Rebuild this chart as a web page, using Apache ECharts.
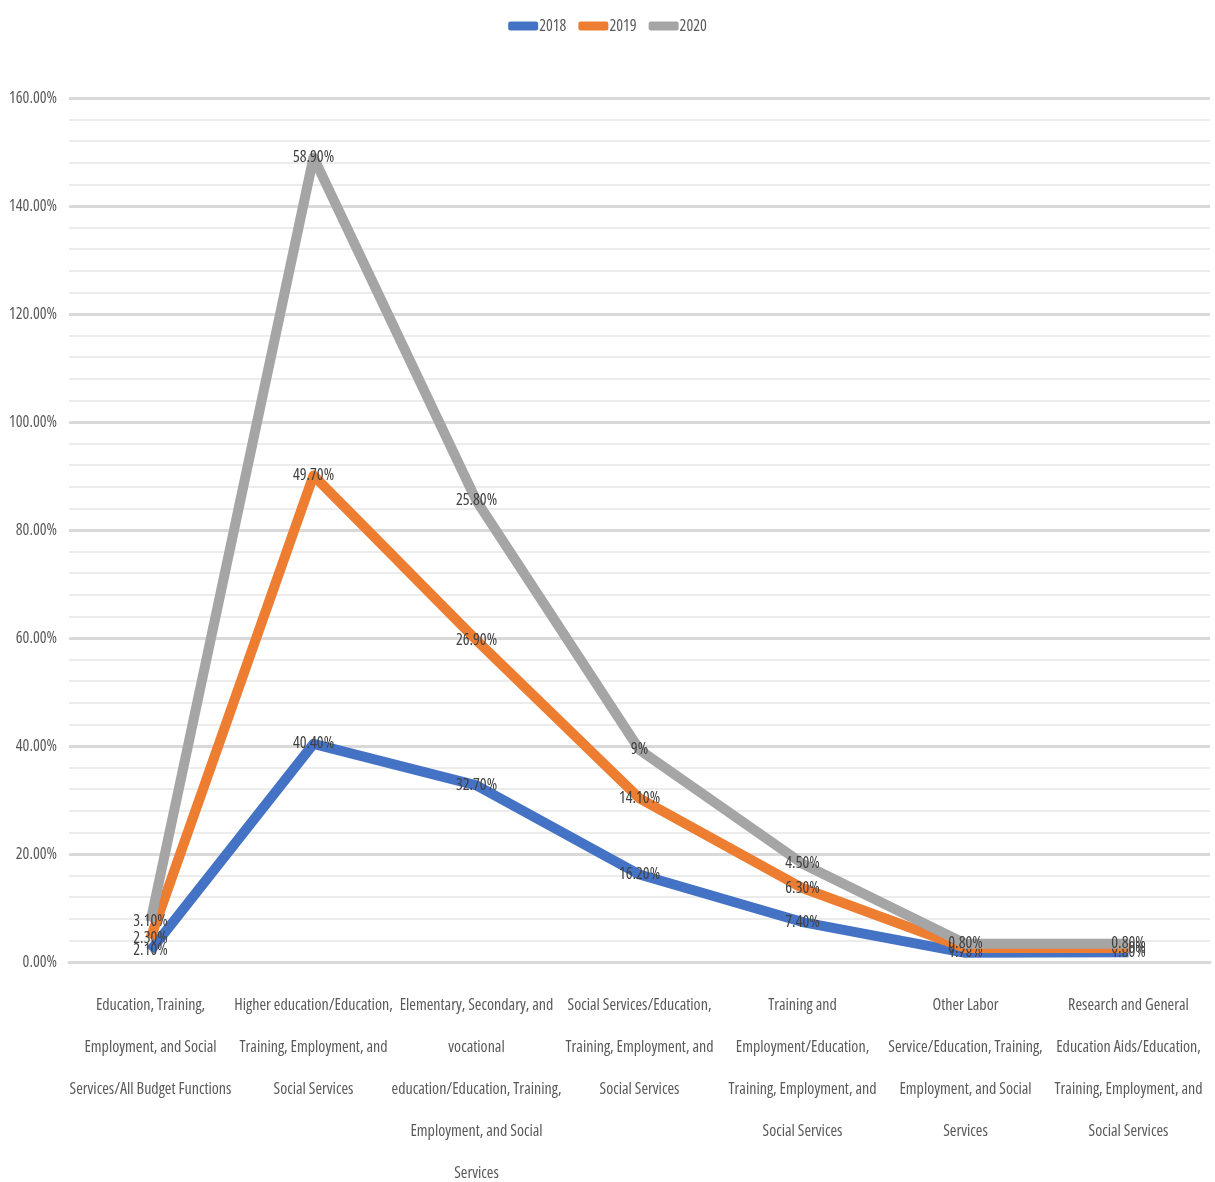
<!DOCTYPE html>
<html>
<head>
<meta charset="utf-8">
<script src="https://cdn.jsdelivr.net/npm/echarts@6/dist/echarts.min.js"></script>
<style>
  html, body { margin: 0; padding: 0; background: #ffffff; }
  #chart { width: 1215px; height: 1182px; }
</style>
</head>
<body>
<div id="chart"></div>
<script>
// Budget function shares by year (percent), drawn as stacked lines
const categories = [
  'Education, Training,\nEmployment, and Social\nServices/All Budget Functions',
  'Higher education/Education,\nTraining, Employment, and\nSocial Services',
  'Elementary, Secondary, and\nvocational\neducation/Education, Training,\nEmployment, and Social\nServices',
  'Social Services/Education,\nTraining, Employment, and\nSocial Services',
  'Training and\nEmployment/Education,\nTraining, Employment, and\nSocial Services',
  'Other Labor\nService/Education, Training,\nEmployment, and Social\nServices',
  'Research and General\nEducation Aids/Education,\nTraining, Employment, and\nSocial Services'
];
const seriesNames = ['2018', '2019', '2020'];
const values2018 = [2.1, 40.4, 32.7, 16.2, 7.4, 1.7, 1.8];
const values2019 = [2.3, 49.7, 26.9, 14.1, 6.3, 0.9, 0.8];
const values2020 = [3.1, 58.9, 25.8, 9, 4.5, 0.8, 0.8];
const yTicks = { min: 0, max: 160, interval: 20 };
const colors = ['#4472C4', '#ED7D31', '#A5A5A5'];

// Narrow text: Open Sans at its condensed width
const FONT = "'Open Sans', 'Roboto Condensed', sans-serif";
const STRETCH = 'condensed';

function pct(v) {
  return Number.isInteger(v) ? v + '%' : v.toFixed(2) + '%';
}

const dataSets = [values2018, values2019, values2020];
const series = dataSets.map((vals, i) => ({
  name: seriesNames[i],
  type: 'line',
  stack: 'total',
  data: vals,
  symbol: 'circle',
  symbolSize: 1,
  lineStyle: { width: 10, color: colors[i], join: 'round' },
  itemStyle: { color: colors[i] },
  label: {
    show: true,
    position: 'inside',
    formatter: p => pct(p.value),
    fontFamily: FONT,
    fontStyle: STRETCH,
    fontSize: 16,
    color: '#404040'
  },
  emphasis: { disabled: true },
  z: 2 + i
}));

const chart = echarts.init(document.getElementById('chart'), null, { renderer: 'canvas' });
chart.setOption({
  animation: false,
  backgroundColor: '#ffffff',
  color: colors,
  legend: {
    top: 13,
    left: 'center',
    data: seriesNames,
    icon: 'roundRect',
    itemWidth: 30,
    itemHeight: 9,
    itemGap: 12,
    textStyle: { fontFamily: FONT, fontStyle: STRETCH, fontSize: 16, color: '#595959', padding: [0, 0, 0, -4] }
  },
  grid: { left: 69, right: 5, top: 98, bottom: 220, containLabel: false, outerBoundsMode: 'none' },
  xAxis: {
    type: 'category',
    data: categories,
    boundaryGap: true,
    axisLine: { lineStyle: { color: '#d9d9d9', width: 3 } },
    axisTick: { show: false },
    axisLabel: {
      interval: 0,
      margin: 22,
      fontFamily: FONT,
      fontStyle: STRETCH,
      fontSize: 16,
      lineHeight: 42,
      color: '#595959',
      align: 'center'
    }
  },
  yAxis: {
    type: 'value',
    min: yTicks.min,
    max: yTicks.max,
    interval: yTicks.interval,
    axisLine: { show: false },
    axisTick: { show: false },
    axisLabel: {
      margin: 12,
      fontFamily: FONT,
      fontStyle: STRETCH,
      fontSize: 16,
      color: '#595959',
      formatter: v => v.toFixed(2) + '%'
    },
    splitLine: { lineStyle: { color: '#d9d9d9', width: 3 } },
    minorTick: { show: false, splitNumber: 5 },
    minorSplitLine: { show: true, lineStyle: { color: '#ececec', width: 2 } }
  },
  series: series
});
</script>
</body>
</html>
